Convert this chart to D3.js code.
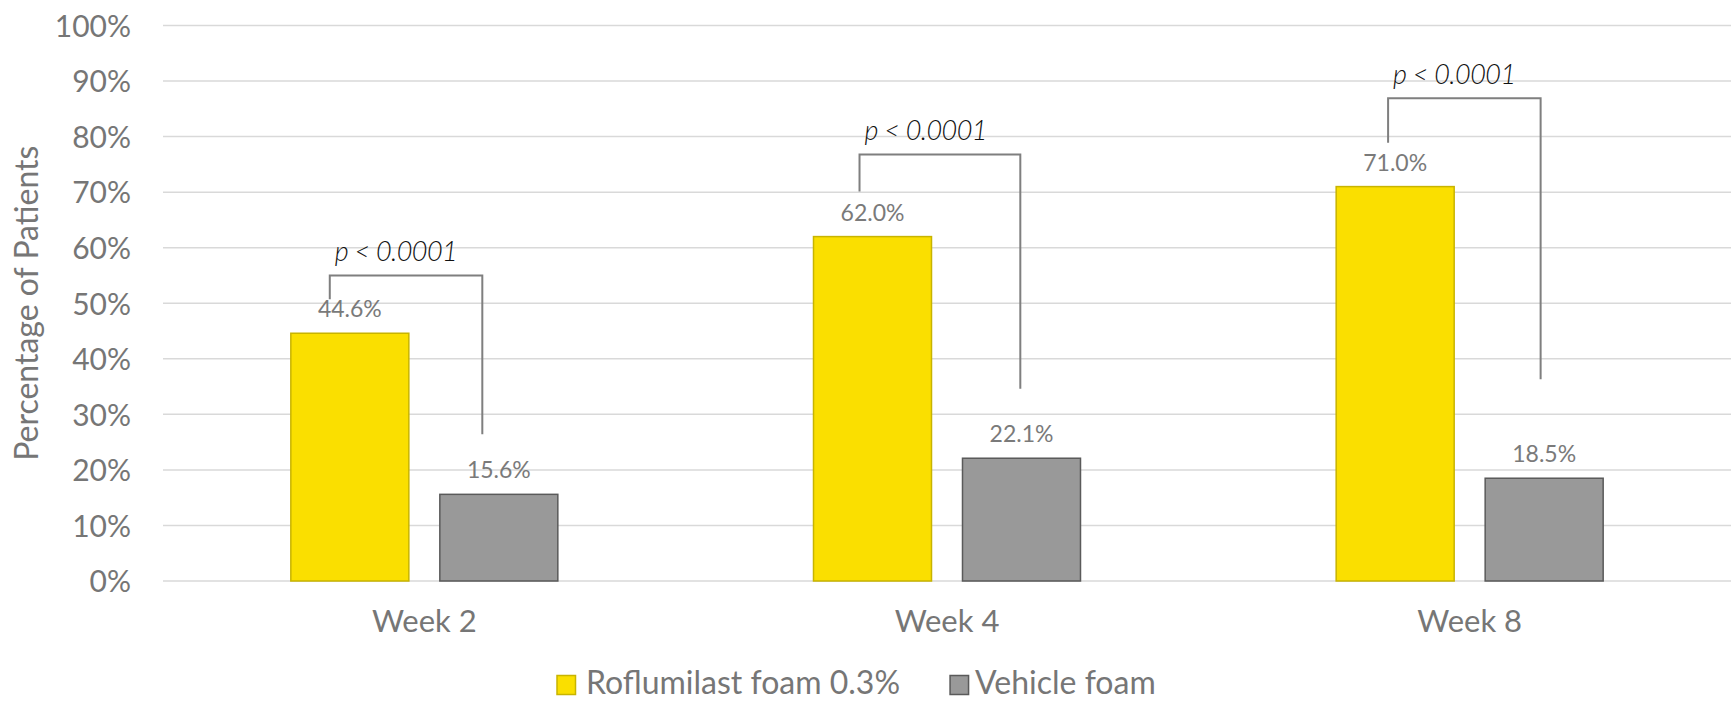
<!DOCTYPE html>
<html>
<head>
<meta charset="utf-8">
<script src="https://cdn.jsdelivr.net/npm/d3@7/dist/d3.min.js"></script>
<style>
  html, body { margin: 0; padding: 0; background: #ffffff; }
  svg { display: block; }
</style>
</head>
<body>
<svg id="chart" width="1731" height="701"></svg>
<script>
// Categories and series
const weeks = ["Week 2", "Week 4", "Week 8"];
const seriesNames = ["Roflumilast foam 0.3%", "Vehicle foam"];
const roflumilast = [44.6, 62.0, 71.0];
const vehicle = [15.6, 22.1, 18.5];
const yTicks = [0, 10, 20, 30, 40, 50, 60, 70, 80, 90, 100];

// Significance brackets per week: bracket top, leg ends (in % units),
// and where each leg sits across its bar (0 = left edge, 1 = right edge)
const pLabels = ["p < 0.0001", "p < 0.0001", "p < 0.0001"];
const bracketTop = [55.0, 76.8, 86.9];
const bracketLeftEnd = [50.7, 70.1, 78.9];
const bracketRightEnd = [26.4, 34.6, 36.3];
const bracketLeftPos = [0.33, 0.39, 0.44];
const bracketRightPos = [0.36, 0.49, 0.47];

const colors = {
  fill: ["#FADF00", "#999999"],
  stroke: ["#C8B400", "#5A5A5A"]
};
const textGray = "#767676";
const mainFont = "Lato, 'Open Sans', sans-serif";

const svg = d3.select("#chart");
const plot = { left: 163, right: 1731, top: 25.5, bottom: 581 };

const x0 = d3.scaleBand().domain(weeks).range([plot.left, plot.right]).paddingInner(0).paddingOuter(0);
const x1 = d3.scaleBand().domain(seriesNames).range([0, x0.bandwidth()]).paddingInner(0.208).paddingOuter(0.858);
const y = d3.scaleLinear().domain([0, 100]).range([plot.bottom, plot.top]);

// Gridlines
svg.append("g")
  .selectAll("line")
  .data(yTicks)
  .join("line")
  .attr("x1", plot.left)
  .attr("x2", plot.right)
  .attr("y1", d => y(d))
  .attr("y2", d => y(d))
  .attr("stroke", "#D9D9D9")
  .attr("stroke-width", 1.5);

// Y axis labels
const yAxis = d3.axisLeft(y).tickValues(yTicks).tickFormat(d => d + "%").tickSize(0).tickPadding(0);
const yAxisG = svg.append("g").attr("transform", "translate(131,0)").call(yAxis);
yAxisG.select(".domain").remove();
yAxisG.selectAll("text")
  .attr("font-family", mainFont)
  .attr("font-size", 30)
  .attr("fill", textGray)
  .attr("dy", "0.36em");

// Y axis title
svg.append("text")
  .attr("transform", `translate(38,${(plot.top + plot.bottom) / 2}) rotate(-90)`)
  .attr("text-anchor", "middle")
  .attr("font-family", mainFont)
  .attr("font-size", 32)
  .attr("fill", textGray)
  .text("Percentage of Patients");

// X axis labels
const xAxis = d3.axisBottom(x0).tickSize(0).tickPadding(0);
const xAxisG = svg.append("g").attr("transform", `translate(0,${plot.bottom})`).call(xAxis);
xAxisG.select(".domain").remove();
xAxisG.selectAll("text")
  .attr("font-family", mainFont)
  .attr("font-size", 31)
  .attr("fill", textGray)
  .attr("dy", "1.65em");

// Bars
const rows = weeks.map((w, i) => ({ week: w, values: [roflumilast[i], vehicle[i]] }));
const groups = svg.append("g")
  .selectAll("g")
  .data(rows)
  .join("g")
  .attr("transform", d => `translate(${x0(d.week)},0)`);

groups.selectAll("rect")
  .data(d => d.values.map((v, j) => ({ series: seriesNames[j], j, v })))
  .join("rect")
  .attr("x", d => x1(d.series))
  .attr("y", d => y(d.v))
  .attr("width", x1.bandwidth())
  .attr("height", d => y(0) - y(d.v))
  .attr("fill", d => colors.fill[d.j])
  .attr("stroke", d => colors.stroke[d.j])
  .attr("stroke-width", 1.5);

// Value labels
groups.selectAll("text.value")
  .data(d => d.values.map((v, j) => ({ series: seriesNames[j], j, v })))
  .join("text")
  .attr("class", "value")
  .attr("x", d => x1(d.series) + x1.bandwidth() / 2)
  .attr("y", d => y(d.v) - 16)
  .attr("text-anchor", "middle")
  .attr("font-family", mainFont)
  .attr("font-size", 23)
  .attr("fill", "#7A7A7A")
  .text(d => d.v.toFixed(1) + "%");

// Significance brackets
weeks.forEach((w, i) => {
  const lx = x0(w) + x1(seriesNames[0]) + x1.bandwidth() * bracketLeftPos[i];
  const rx = x0(w) + x1(seriesNames[1]) + x1.bandwidth() * bracketRightPos[i];
  const path = d3.path();
  path.moveTo(lx, y(bracketLeftEnd[i]));
  path.lineTo(lx, y(bracketTop[i]));
  path.lineTo(rx, y(bracketTop[i]));
  path.lineTo(rx, y(bracketRightEnd[i]));
  svg.append("path")
    .attr("d", path.toString())
    .attr("fill", "none")
    .attr("stroke", "#7F7F7F")
    .attr("stroke-width", 2);
  svg.append("text")
    .attr("x", lx + 5)
    .attr("y", y(bracketTop[i]) - 14)
    .attr("font-family", "Lato, sans-serif")
    .attr("font-style", "italic")
    .attr("font-weight", 300)
    .attr("font-size", 27)
    .attr("textLength", 123)
    .attr("lengthAdjust", "spacing")
    .attr("fill", "#111111")
    .text(pLabels[i]);
});

// Legend
const legend = svg.append("g").attr("transform", "translate(557,694)");
let cursor = 0;
seriesNames.forEach((name, j) => {
  const item = legend.append("g").attr("transform", `translate(${cursor},0)`);
  item.append("rect")
    .attr("x", 0).attr("y", -18.5)
    .attr("width", 18.5).attr("height", 19)
    .attr("fill", colors.fill[j])
    .attr("stroke", colors.stroke[j])
    .attr("stroke-width", 1.5);
  const t = item.append("text")
    .attr("x", j === 0 ? 29 : 25)
    .attr("y", 0)
    .attr("font-family", mainFont)
    .attr("font-size", 32)
    .attr("fill", textGray)
    .text(name);
  cursor += (j === 0 ? 29 : 25) + t.node().getComputedTextLength() + 50;
});
</script>
</body>
</html>
